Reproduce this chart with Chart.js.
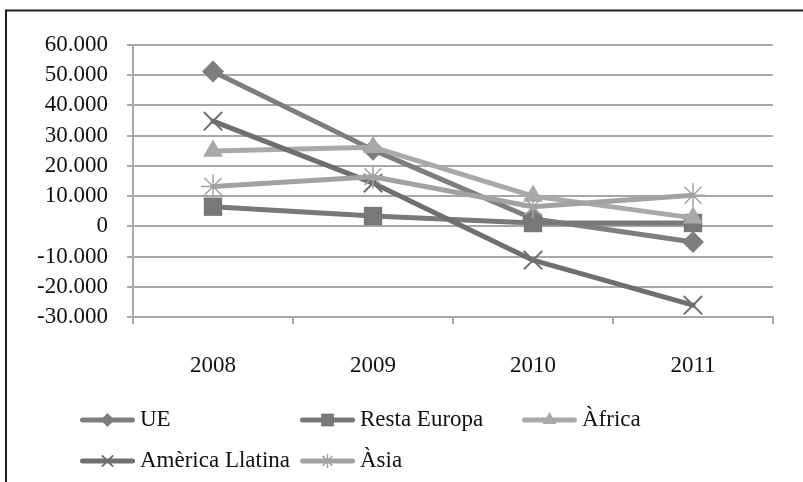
<!DOCTYPE html>
<html>
<head>
<meta charset="utf-8">
<script src="https://cdn.jsdelivr.net/npm/chart.js@4.4.0/dist/chart.umd.min.js"></script>
<style>
  html, body { margin: 0; padding: 0; background: #ffffff; }
  #wrap { width: 803px; height: 482px; position: relative; }
</style>
</head>
<body>
<div id="wrap"><canvas id="c" width="803" height="482"></canvas></div>
<script>
const categories = ['2008', '2009', '2010', '2011'];
const seriesNames = ['UE', 'Resta Europa', 'Àfrica', 'Amèrica Llatina', 'Àsia'];
const ueValues = [51200, 25300, 2500, -5200];
const restaEuropaValues = [6500, 3400, 1100, 1100];
const africaValues = [24900, 26200, 10000, 2800];
const americaLlatinaValues = [34800, 14300, -11200, -26100];
const asiaValues = [13200, 16400, 6500, 10300];
const yTickMin = -30000;
const yTickMax = 60000;
const yTickStep = 10000;

const FONT = "'Liberation Serif', 'Times New Roman', serif";

function fmt(v) {
  const neg = v < 0;
  let s = String(Math.abs(Math.round(v)));
  s = s.replace(/\B(?=(\d{3})+(?!\d))/g, '.');
  return (neg ? '-' : '') + s;
}

const styles = [
  { color: '#7e7e80', pointStyle: 'rectRot', radius: 11, legendRadius: 7, bw: 0 },
  { color: '#78787a', pointStyle: 'rect', radius: 13, legendRadius: 9, bw: 0 },
  { color: '#a9a9ab', pointStyle: 'triangle', radius: 11.5, legendRadius: 8, bw: 0 },
  { color: '#6f6f71', pointStyle: 'crossRot', radius: 13, legendRadius: 8, bw: 2 },
  { color: '#a2a2a4', pointStyle: 'star', radius: 12, legendRadius: 7, bw: 1.5 }
];
const seriesValues = [ueValues, restaEuropaValues, africaValues, americaLlatinaValues, asiaValues];

const datasets = seriesNames.map((name, i) => ({
  label: name,
  data: seriesValues[i],
  borderColor: styles[i].color,
  backgroundColor: styles[i].color,
  borderWidth: 5,
  borderCapStyle: 'round',
  borderJoinStyle: 'round',
  pointStyle: styles[i].pointStyle,
  pointRadius: styles[i].radius,
  pointHoverRadius: styles[i].radius,
  pointBorderWidth: styles[i].bw,
  pointBorderColor: styles[i].color,
  pointBackgroundColor: styles[i].color,
  tension: 0,
  order: seriesNames.length - i,
  clip: false
}));

const framePlugin = {
  id: 'frameAndLegend',
  afterDraw(chart) {
    const ctx = chart.ctx;
    ctx.save();
    ctx.strokeStyle = '#1e1e1e';
    ctx.lineWidth = 2;
    ctx.beginPath();
    ctx.moveTo(6, 490);
    ctx.lineTo(6, 10.5);
    ctx.lineTo(810, 10.5);
    ctx.stroke();

    const pos = [
      { x: 80, y: 420 }, { x: 300, y: 420 }, { x: 522, y: 420 },
      { x: 80, y: 461 }, { x: 300, y: 461 }
    ];
    ctx.font = '23px ' + FONT;
    ctx.textBaseline = 'middle';
    ctx.textAlign = 'left';
    seriesNames.forEach((name, i) => {
      const p = pos[i];
      const st = styles[i];
      ctx.strokeStyle = st.color;
      ctx.fillStyle = st.color;
      ctx.lineWidth = 5;
      ctx.lineCap = 'round';
      ctx.beginPath();
      ctx.moveTo(p.x + 2.5, p.y);
      ctx.lineTo(p.x + 52.5, p.y);
      ctx.stroke();
      ctx.lineCap = 'butt';
      ctx.lineWidth = st.bw;
      Chart.helpers.drawPoint(ctx, {
        pointStyle: st.pointStyle,
        radius: st.legendRadius,
        rotation: 0,
        borderWidth: st.bw
      }, p.x + 27.5, p.y);
      ctx.fillStyle = '#111111';
      ctx.fillText(name, p.x + 60, p.y);
    });
    ctx.restore();
  }
};

new Chart(document.getElementById('c'), {
  type: 'line',
  data: { labels: categories, datasets: datasets },
  options: {
    responsive: false,
    animation: false,
    devicePixelRatio: 1,
    layout: { padding: { left: 10, top: 45, right: 30, bottom: 100 } },
    plugins: {
      legend: { display: false },
      tooltip: { enabled: false },
      title: { display: false }
    },
    scales: {
      x: {
        offset: true,
        grid: {
          offset: true,
          drawOnChartArea: false,
          drawTicks: true,
          tickLength: 7,
          color: '#a8a8a8',
          lineWidth: 2
        },
        border: { display: true, color: '#a8a8a8', width: 2 },
        ticks: {
          color: '#111111',
          font: { family: FONT, size: 23 },
          padding: 28,
          maxRotation: 0,
          autoSkip: false
        },
        afterFit(scale) { scale.height = 65; }
      },
      y: {
        min: yTickMin,
        max: yTickMax,
        grid: {
          color: '#a8a8a8',
          lineWidth: 2,
          tickLength: 6
        },
        border: { display: true, color: '#a8a8a8', width: 2 },
        ticks: {
          stepSize: yTickStep,
          autoSkip: false,
          color: '#111111',
          font: { family: FONT, size: 23 },
          padding: 19,
          callback: (v) => fmt(v)
        },
        afterFit(scale) { scale.width = 123; }
      }
    }
  },
  plugins: [framePlugin]
});
</script>
</body>
</html>
